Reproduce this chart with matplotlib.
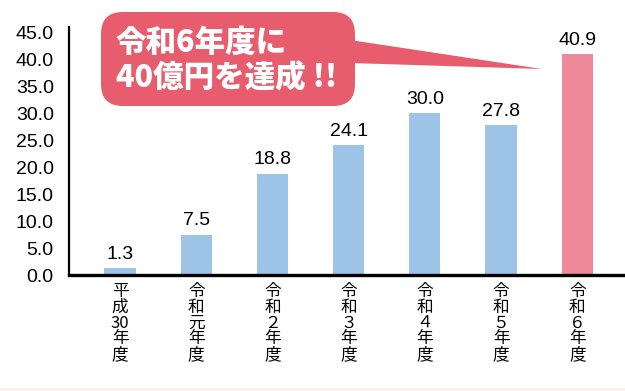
import matplotlib
matplotlib.use("Agg")
import matplotlib.pyplot as plt
from matplotlib.patches import FancyBboxPatch, Polygon, Rectangle

categories = ["平\n成\n30\n年\n度", "令\n和\n元\n年\n度", "令\n和\n２\n年\n度",
              "令\n和\n３\n年\n度", "令\n和\n４\n年\n度", "令\n和\n５\n年\n度",
              "令\n和\n６\n年\n度"]
values = [1.3, 7.5, 18.8, 24.1, 30.0, 27.8, 40.9]
bar_colors = ["#9DC3E6"] * 6 + ["#EE889B"]
yticks = [0, 5, 10, 15, 20, 25, 30, 35, 40, 45]
callout_text = "令和6年度に\n40億円を達成 !!"

W, H = 625, 391
fig = plt.figure(figsize=(W / 100, H / 100), dpi=100)

def px(x, y):
    return (x / W, 1 - y / H)

# bottom pale strip
fig.patches.append(Rectangle(px(0, 391), 1, 3 / H, transform=fig.transFigure,
                             facecolor="#FCEEEE", edgecolor="none", zorder=0))

l, b = px(69, 275)
r, t = px(623, 27)
ax = fig.add_axes([l, b, r - l, t - b])
x = list(range(len(values)))
ax.bar(x, values, width=0.41, color=bar_colors, zorder=2)
ax.set_xlim(-0.67, 6.6)
ax.set_ylim(0, 46)

num_font = ["Liberation Sans", "Noto Sans CJK JP"]
for xi, v in zip(x, values):
    ax.text(xi, v + 1.0, f"{v:.1f}", ha="center", va="bottom", fontsize=14,
            family=num_font, color="black")

ax.set_yticks(yticks)
ax.set_yticklabels([f"{v:.1f}" for v in yticks], family=num_font, fontsize=14)
ax.set_xticks(x)
ax.set_xticklabels(categories, family=["Noto Sans CJK JP", "DejaVu Sans"],
                   fontsize=12, linespacing=0.9, va="top")
ax.tick_params(axis="y", length=0, pad=11)
ax.tick_params(axis="x", length=0, pad=6)
for s in ["top", "right"]:
    ax.spines[s].set_visible(False)
ax.spines["left"].set_linewidth(1.6)
ax.spines["bottom"].set_linewidth(2.4)

# callout box
bx0, by0 = px(101, 106)
bx1, by1 = px(355, 12)
box = FancyBboxPatch((bx0, by0), bx1 - bx0, by1 - by0,
                     boxstyle="round,pad=0,rounding_size=0.035",
                     transform=fig.transFigure, facecolor="#E85D6E",
                     edgecolor="none", zorder=5, mutation_aspect=W / H)
fig.patches.append(box)
tail = Polygon([px(350, 40), px(350, 63), px(542, 69)], closed=True,
               transform=fig.transFigure, facecolor="#E85D6E",
               edgecolor="none", zorder=5)
fig.patches.append(tail)
tx, ty = px(116, 60)
fig.text(tx, ty, callout_text, ha="left", va="center", fontsize=22,
         fontweight="heavy", color="white", linespacing=1.15,
         family=["Noto Sans CJK JP", "DejaVu Sans"], zorder=6)

fig.savefig("out.png", dpi=100)
